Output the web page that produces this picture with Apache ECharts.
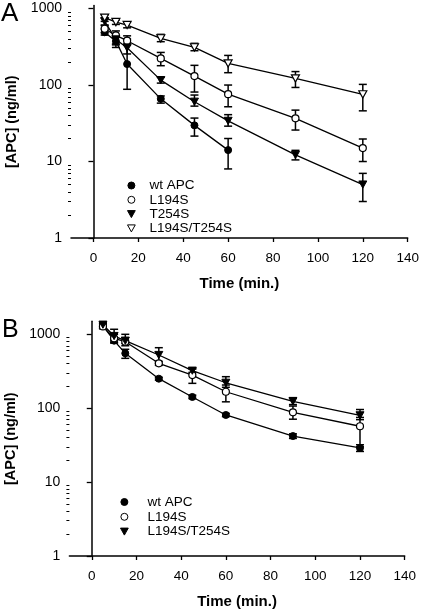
<!DOCTYPE html>
<html>
<head>
<meta charset="utf-8">
<script src="https://cdn.jsdelivr.net/npm/echarts@6/dist/echarts.min.js"></script>
<style>html,body{margin:0;padding:0;background:#fff;}#c{width:421px;height:613px;}</style>
</head>
<body>
<div id="c"></div>
<script>
// ---- data ----
const times = [5, 10, 15, 30, 45, 60, 90, 120];
const xTicks = [0, 20, 40, 60, 80, 100, 120, 140];
const yTicks = [1, 10, 100, 1000];
const yMinorTicks = [2,3,4,5,6,7,8,9,20,30,40,50,60,70,80,90,200,300,400,500,600,700,800,900];

// Panel A
const aWtMean = [490, 375, 188, 66, 29.7, 14.1];
const aWtLo   = [450, 335, 88, 58, 21.5, 8];
const aWtHi   = [540, 420, 400, 72, 37, 20];
const aL194Mean = [545, 445, 380, 223, 131, 76, 36.7, 15];
const aL194Lo   = [480, 310, 330, 179, 81, 52, 25.8, 10];
const aL194Hi   = [610, 510, 440, 267, 181, 100, 47, 19.7];
const aT254Mean = [680, 395, 307, 116, 60.5, 34, 12.2, 5.0];
const aT254Lo   = [600, 345, 255, 106, 53, 29, 10.5, 3.0];
const aT254Hi   = [760, 450, 345, 126, 74, 41, 14, 7.0];
const aDblMean = [760, 666, 609, 408, 311, 192, 122, 75.6];
const aDblLo   = [680, 620, 560, 369, 281, 145, 93, 46];
const aDblHi   = [830, 710, 660, 460, 351, 244, 150, 102];

// Panel B
const bWtMean = [1300, 820, 553, 251, 142, 81, 42, 29];
const bWtLo   = [1200, 760, 473, 240, 135, 77, 39, 26];
const bWtHi   = [1400, 900, 627, 262, 150, 85, 45, 32];
const bL194Mean = [1280, 883, 794, 405, 281, 167, 88, 57];
const bL194Lo   = [1190, 780, 700, 380, 217, 122, 71, 30];
const bL194Hi   = [1380, 1000, 900, 430, 343, 206, 107, 75];
const bDblMean = [1350, 948, 820, 525, 322, 221, 124, 80];
const bDblLo   = [1250, 850, 750, 405, 305, 192, 112, 70];
const bDblHi   = [1450, 1170, 1000, 659, 340, 267, 139, 96];

const namesA = ['wt APC', 'L194S', 'T254S', 'L194S/T254S'];
const namesB = ['B: wt APC', 'B: L194S', 'B: L194S/T254S'];

// ---- styles ----
const FONT = 'Liberation Sans';
const downTri = 'path://M0,0L10,0L5,9Z';
const filledStyle = { color: '#000', borderColor: '#000', borderWidth: 1 };
const openStyle = { color: '#fff', borderColor: '#000', borderWidth: 1.2 };

function pts(mean) { return mean.map((v, i) => [times[i], v]); }
function errs(lo, hi) { return lo.map((v, i) => [times[i], v, hi[i]]); }

function errRender(params, api) {
  const x = api.value(0), lo = api.value(1), hi = api.value(2);
  const p1 = api.coord([x, hi]), p2 = api.coord([x, lo]);
  const w = 4;
  const st = { stroke: '#000', lineWidth: 1.5 };
  return { type: 'group', children: [
    { type: 'line', shape: { x1: p1[0], y1: p1[1], x2: p2[0], y2: p2[1] }, style: st },
    { type: 'line', shape: { x1: p1[0] - w, y1: p1[1], x2: p1[0] + w, y2: p1[1] }, style: st },
    { type: 'line', shape: { x1: p2[0] - w, y1: p2[1], x2: p2[0] + w, y2: p2[1] }, style: st }
  ]};
}

function lineSeries(name, mean, symbol, size, style, xi, yi) {
  return { type: 'line', name: name, data: pts(mean), xAxisIndex: xi, yAxisIndex: yi,
    symbol: symbol, symbolSize: size, symbolKeepAspect: true, showAllSymbol: true,
    itemStyle: style, lineStyle: { color: '#000', width: 1.3 }, z: 3, silent: true };
}
function errSeries(lo, hi, xi, yi) {
  return { type: 'custom', data: errs(lo, hi), xAxisIndex: xi, yAxisIndex: yi,
    renderItem: errRender, encode: { x: 0, y: [1, 2] }, z: 2, silent: true };
}

function xAxisDef(gi) {
  return { type: 'value', gridIndex: gi, min: -10, max: 140,
    name: 'Time (min.)', nameLocation: 'middle', nameGap: 38,
    nameTextStyle: { fontFamily: FONT, fontSize: 15, fontWeight: 'bold', color: '#000' },
    axisLine: { show: true, lineStyle: { color: '#000', width: 1.5 } },
    axisTick: { show: true, inside: false, length: 4, customValues: xTicks, lineStyle: { color: '#000', width: 1.3 } },
    axisLabel: { customValues: xTicks, margin: 13, fontFamily: FONT, fontSize: 13.5, color: '#000' },
    splitLine: { show: false } };
}
function yAxisMain(gi, max) {
  return { type: 'log', logBase: 10, gridIndex: gi, min: 1, max: max, position: 'left',
    name: '[APC] (ng/ml)', nameLocation: 'middle', nameGap: 51, nameRotate: 90,
    nameTextStyle: { fontFamily: FONT, fontSize: 14.5, fontWeight: 'bold', color: '#000' },
    axisLine: { show: true, lineStyle: { color: '#000', width: 1.5 } },
    axisTick: { show: true, inside: false, length: 5, customValues: yTicks, lineStyle: { color: '#000', width: 1.3 } },
    axisLabel: { customValues: yTicks, margin: 9, fontFamily: FONT, fontSize: 14, color: '#000',
      formatter: function (v) { return String(Math.round(v)); } },
    splitLine: { show: false }, minorTick: { show: false } };
}
function yAxisMinor(gi, max) {
  return { type: 'log', logBase: 10, gridIndex: gi, min: 1, max: max, position: 'left', offset: 0,
    axisLine: { show: false },
    axisTick: { show: true, inside: false, length: 3, customValues: yMinorTicks, lineStyle: { color: '#000', width: 1 } },
    axisLabel: { show: false }, splitLine: { show: false } };
}

const option = {
  animation: false,
  backgroundColor: '#fff',
  title: [
    { text: 'A', left: 1, top: 1, padding: 0, textStyle: { fontFamily: FONT, fontSize: 26, fontWeight: 'normal', color: '#000' } },
    { text: 'B', left: 2, top: 318, padding: 0, textStyle: { fontFamily: FONT, fontSize: 25, fontWeight: 'normal', color: '#000' } }
  ],
  grid: [
    { left: 71, right: 13.3, top: 5.4, bottom: 375, outerBoundsMode: 'none', containLabel: false },
    { left: 69.4, right: 16.3, top: 321.3, bottom: 57, outerBoundsMode: 'none', containLabel: false }
  ],
  xAxis: [xAxisDef(0), xAxisDef(1)],
  yAxis: [yAxisMain(0, 1100), yAxisMinor(0, 1100), yAxisMain(1, 1500), yAxisMinor(1, 1500)],
  legend: [
    { orient: 'vertical', left: 127, top: 178.5, padding: 0, itemGap: 0.3, itemWidth: 26, itemHeight: 7,
      selectedMode: false, itemStyle: { borderWidth: 1 },
      textStyle: { fontFamily: FONT, fontSize: 13.5, lineHeight: 10, color: '#000' },
      data: [
        { name: namesA[0], icon: 'circle' },
        { name: namesA[1], icon: 'circle' },
        { name: namesA[2], icon: downTri },
        { name: namesA[3], icon: downTri }
      ] },
    { orient: 'vertical', left: 120, top: 495, padding: 0, itemGap: 0.8, itemWidth: 36, itemHeight: 7,
      selectedMode: false, itemStyle: { borderWidth: 1 },
      formatter: function (n) { return n.replace(/^B: /, ''); },
      textStyle: { fontFamily: FONT, fontSize: 13.5, lineHeight: 10, color: '#000' },
      data: [
        { name: namesB[0], icon: 'circle' },
        { name: namesB[1], icon: 'circle' },
        { name: namesB[2], icon: downTri }
      ] }
  ],
  series: [
    errSeries(aWtLo, aWtHi, 0, 0),
    errSeries(aL194Lo, aL194Hi, 0, 0),
    errSeries(aT254Lo, aT254Hi, 0, 0),
    errSeries(aDblLo, aDblHi, 0, 0),
    lineSeries(namesA[0], aWtMean, 'circle', 7, filledStyle, 0, 0),
    lineSeries(namesA[1], aL194Mean, 'circle', 7, openStyle, 0, 0),
    lineSeries(namesA[2], aT254Mean, downTri, 8, filledStyle, 0, 0),
    lineSeries(namesA[3], aDblMean, downTri, 8, openStyle, 0, 0),
    errSeries(bWtLo, bWtHi, 1, 2),
    errSeries(bL194Lo, bL194Hi, 1, 2),
    errSeries(bDblLo, bDblHi, 1, 2),
    lineSeries(namesB[0], bWtMean, 'circle', 7, filledStyle, 1, 2),
    lineSeries(namesB[1], bL194Mean, 'circle', 7, openStyle, 1, 2),
    lineSeries(namesB[2], bDblMean, downTri, 8, filledStyle, 1, 2)
  ]
};

const chart = echarts.init(document.getElementById('c'), null, { renderer: 'canvas' });
chart.setOption(option);
</script>
</body>
</html>
